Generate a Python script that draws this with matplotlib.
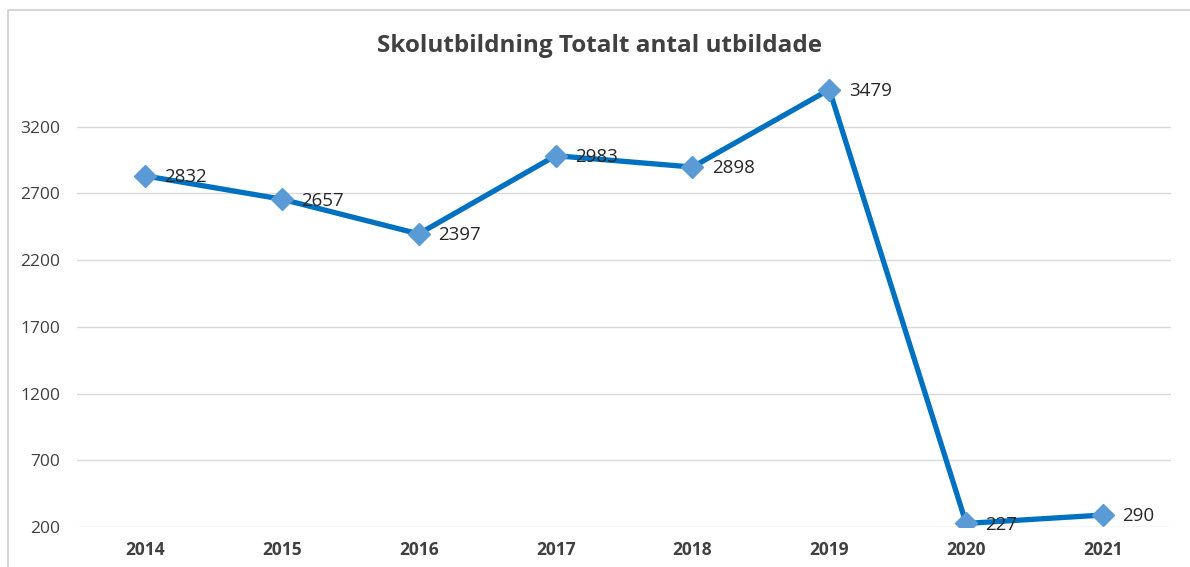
import matplotlib.pyplot as plt
from matplotlib.patches import Rectangle

years = ["2014", "2015", "2016", "2017", "2018", "2019", "2020", "2021"]
values = [2832, 2657, 2397, 2983, 2898, 3479, 227, 290]
yticks = [200, 700, 1200, 1700, 2200, 2700, 3200]

plt.rcParams['font.family'] = ['Open Sans', 'DejaVu Sans']

fig = plt.figure(figsize=(11.9, 5.67), dpi=100)
ax = fig.add_axes([0.0644, 0.0705, 0.92, 0.8236])

x = list(range(len(years)))
ax.plot(x, values, color="#0070C0", lw=3.8, marker="D", ms=11,
        mfc="#5B9BD5", mec="#5B9BD5", zorder=3)

for xi, v in zip(x, values):
    ax.annotate(str(v), (xi, v), xytext=(14, -1), textcoords="offset points",
                ha="left", va="center", fontsize=13.5, color="#262626", zorder=4)

ax.set_xlim(-0.5, len(years) - 0.5)
ax.set_ylim(200, 3700)
ax.set_yticks(yticks)
ax.set_yticklabels([str(t) for t in yticks], fontsize=12.5, color="#404040")
ax.set_xticks(x)
ax.set_xticklabels(years, fontsize=12.5, fontweight="bold", color="#404040")
ax.tick_params(length=0, pad=12)
ax.tick_params(axis="x", pad=10)
ax.grid(axis="y", color="#D9D9D9", lw=1)
ax.set_axisbelow(True)
for s in ax.spines.values():
    s.set_visible(False)

fig.text(0.504, 0.918, "Skolutbildning Totalt antal utbildade", ha="center", va="center",
         fontsize=17.5, fontweight="bold", color="#404040")

fig.patches.append(Rectangle((8 / 1190, -0.05), 1.1, 1 - 10 / 567 + 0.05,
                             transform=fig.transFigure, fill=False,
                             edgecolor="#D0D0D0", lw=1.2))

fig.savefig("out.png", dpi=100)
